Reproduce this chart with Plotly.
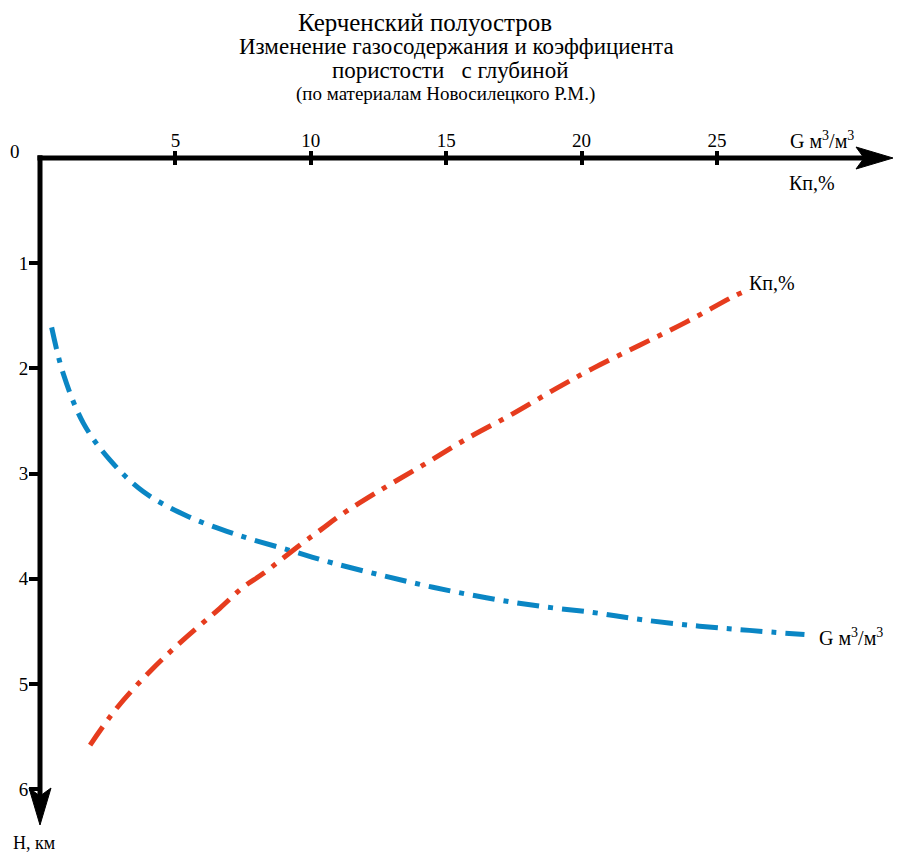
import plotly.graph_objects as go

# Gas content G (m3/m3) vs depth H (km)
g_values = [0.43, 0.86, 1.60, 2.58, 3.81, 5.41, 7.26, 9.23, 10.81, 12.67, 14.51,
            16.48, 18.45, 20.42, 22.26, 24.35, 26.2, 28.23]
g_depth = [1.61, 2.05, 2.52, 2.87, 3.17, 3.40, 3.58, 3.73, 3.85, 3.97, 4.08,
           4.18, 4.26, 4.32, 4.39, 4.45, 4.49, 4.53]

# Porosity Kp (%) vs depth H (km)
kp_values = [1.85, 2.83, 4.06, 5.29, 6.64, 7.50, 8.24, 9.59, 10.39, 11.07, 12.55,
             14.14, 15.75, 17.47, 19.07, 20.42, 22.14, 23.86, 25.58, 26.0]
kp_depth = [5.58, 5.23, 4.88, 4.58, 4.28, 4.08, 3.95, 3.68, 3.53, 3.40, 3.16,
            2.92, 2.67, 2.43, 2.19, 2.00, 1.78, 1.56, 1.32, 1.27]

x_ticks = [5, 10, 15, 20, 25]
y_ticks = [1, 2, 3, 4, 5, 6]

X_MAX = 31.5
Y_MAX = 6.34

BLUE = "#0a86c4"
RED = "#e63c1e"
FONT = "Liberation Serif, Times New Roman, DejaVu Serif, serif"
DASH = "22px,9px,5px,9px"

fig = go.Figure()
fig.add_trace(go.Scatter(x=g_values, y=g_depth, mode="lines",
                         line=dict(color=BLUE, width=5, dash=DASH, shape="spline"),
                         hoverinfo="skip", showlegend=False))
fig.add_trace(go.Scatter(x=kp_values, y=kp_depth, mode="lines", xaxis="x2",
                         line=dict(color=RED, width=5, dash=DASH, shape="spline"),
                         hoverinfo="skip", showlegend=False))

# page has an 8px body margin: figure is 896x846 so that it fits the 904x854 window
fig.update_layout(
    width=896, height=846,
    margin=dict(l=32, r=11, t=150, b=29, autoexpand=False),
    paper_bgcolor="white", plot_bgcolor="white",
    font=dict(family=FONT, color="black", size=17),
    xaxis=dict(range=[0, X_MAX], side="top", showgrid=False, zeroline=False,
               showline=False, automargin=False,
               tickmode="array", tickvals=x_ticks, ticks="outside",
               ticklen=6, tickwidth=4, tickcolor="black", ticklabelstandoff=-4,
               tickfont=dict(family=FONT, size=19)),
    xaxis2=dict(range=[0, X_MAX], overlaying="x", side="top", matches="x",
                showgrid=False, zeroline=False, showline=False, automargin=False,
                tickmode="array", tickvals=x_ticks, ticks="inside",
                ticklen=7, tickwidth=4, tickcolor="black", showticklabels=False),
    yaxis=dict(range=[Y_MAX, 0], showgrid=False, zeroline=False,
               showline=False, automargin=False,
               tickmode="array", tickvals=y_ticks, ticks="outside",
               ticklen=10, tickwidth=4, tickcolor="black", ticklabelstandoff=-3,
               tickfont=dict(family=FONT, size=19)),
)

# axis lines
fig.add_shape(type="line", xref="paper", yref="paper", x0=-0.003, x1=0.97, y0=1, y1=1,
              line=dict(color="black", width=5))
fig.add_shape(type="line", xref="paper", yref="paper", x0=0, x1=0, y0=1.004, y1=0.04,
              line=dict(color="black", width=5))
# arrowheads
fig.add_shape(type="path", xref="paper", yref="paper", xsizemode="pixel", ysizemode="pixel",
              xanchor=1, yanchor=1,
              path="M 0,0 L -37,11 L -29,0 L -37,-11 Z",
              fillcolor="black", line=dict(color="black", width=1))
fig.add_shape(type="path", xref="paper", yref="paper", xsizemode="pixel", ysizemode="pixel",
              xanchor=0, yanchor=0,
              path="M 0,0 L -11,37 L 0,29 L 11,37 Z",
              fillcolor="black", line=dict(color="black", width=1))

def ann(text, x, y, size=18, xanchor="center", xref="x", yref="y"):
    fig.add_annotation(text=text, x=x, y=y, xref=xref, yref=yref, showarrow=False,
                       xanchor=xanchor, yanchor="middle",
                       font=dict(family=FONT, size=size, color="black"))

ann("0", -0.029, 1.009, size=19, xref="paper", yref="paper")
ann("G м<sup>3</sup>/м<sup>3</sup>", 0.917, 1.027, size=20, xref="paper", yref="paper")
ann("Кп,%", 28.5, 0.24, size=20)
ann("Кп,%", 26.1, 1.19, size=20, xanchor="left")
ann("G м<sup>3</sup>/м<sup>3</sup>", 28.7, 4.55, size=20, xanchor="left")
ann("Н, км", -0.007, -0.027, size=18, xref="paper", yref="paper")

ann("Керченский полуостров", 0.451, 1.203, size=25, xref="paper", yref="paper")
ann("Изменение газосодержания и коэффициента", 0.488, 1.167, size=23, xref="paper", yref="paper")
ann("пористости   с глубиной", 0.481, 1.131, size=23, xref="paper", yref="paper")
ann("(по материалам Новосилецкого Р.М.)", 0.475, 1.096, size=19, xref="paper", yref="paper")

fig.write_html("out.html")
